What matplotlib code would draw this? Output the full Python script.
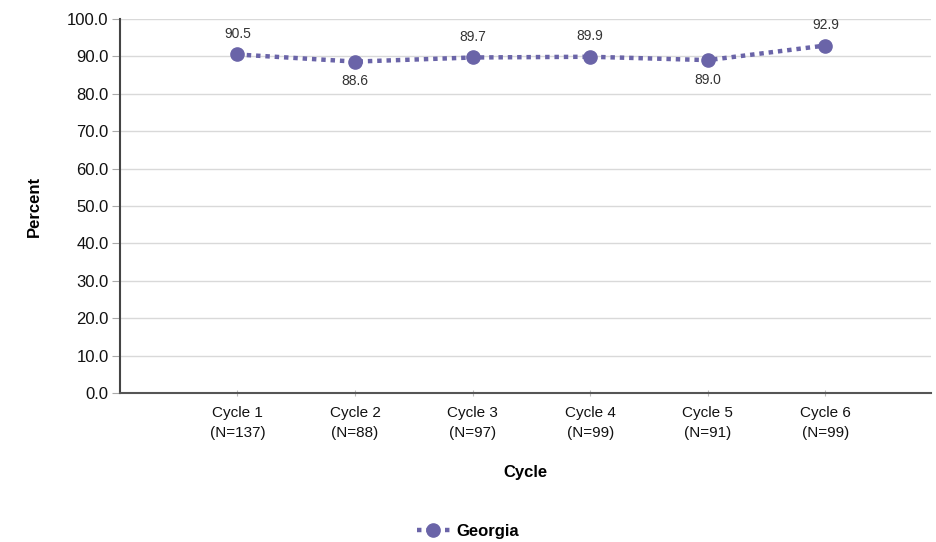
import matplotlib
matplotlib.use('Agg')
import matplotlib.pyplot as plt
import numpy as np

plt.rcParams['font.family'] = ['Liberation Sans', 'DejaVu Sans']

cycles = ['Cycle 1\n(N=137)', 'Cycle 2\n(N=88)', 'Cycle 3\n(N=97)',
          'Cycle 4\n(N=99)', 'Cycle 5\n(N=91)', 'Cycle 6\n(N=99)']
georgia = [90.5, 88.6, 89.7, 89.9, 89.0, 92.9]
label_pos = ['above', 'below', 'above', 'above', 'below', 'above']

color = '#6a64a8'

fig = plt.figure(figsize=(9.36, 5.42), dpi=100)
ax = fig.add_axes([0.128, 0.275, 0.867, 0.69])

x = np.arange(len(cycles))
ax.plot(x, georgia, color=color, linestyle=(0, (1, 1.1)), linewidth=3.2,
        marker='o', markersize=9.5, label='Georgia', zorder=3)

for xi, v, pos in zip(x, georgia, label_pos):
    if pos == 'above':
        ax.annotate('%.1f' % v, (xi, v), xytext=(0, 10), textcoords='offset points',
                    ha='center', va='bottom', fontsize=10, color='#333333')
    else:
        ax.annotate('%.1f' % v, (xi, v), xytext=(0, -9), textcoords='offset points',
                    ha='center', va='top', fontsize=10, color='#333333')

ax.set_ylim(0, 100)
ax.set_xlim(-1, 5.9)
ax.set_yticks(np.arange(0, 101, 10))
ax.set_yticklabels(['%.1f' % t for t in np.arange(0, 101, 10)], fontsize=12, color='#111111')
ax.set_xticks(x)
ax.set_xticklabels(cycles, fontsize=11, color='#111111', linespacing=1.5)
ax.yaxis.grid(True, color='#d9d9d9', linewidth=1)
ax.set_axisbelow(True)

for s in ['top', 'right']:
    ax.spines[s].set_visible(False)
ax.spines['left'].set_color('#444444')
ax.spines['left'].set_linewidth(1.5)
ax.spines['bottom'].set_color('#555555')
ax.spines['bottom'].set_linewidth(1.5)
ax.tick_params(axis='y', length=6, color='#aaaaaa', pad=2)
ax.tick_params(axis='x', length=5, color='#bbbbbb', direction='inout', pad=7)

ax.set_ylabel('Percent', fontsize=12, fontweight='bold', labelpad=18)
ax.set_xlabel('Cycle', fontsize=12, fontweight='bold', labelpad=18)

fig.legend(loc='lower center', bbox_to_anchor=(0.5, -0.022), frameon=False,
           prop={'size': 12, 'weight': 'bold'}, handlelength=2.0, handletextpad=0.4)

fig.savefig('out.png', dpi=100)
